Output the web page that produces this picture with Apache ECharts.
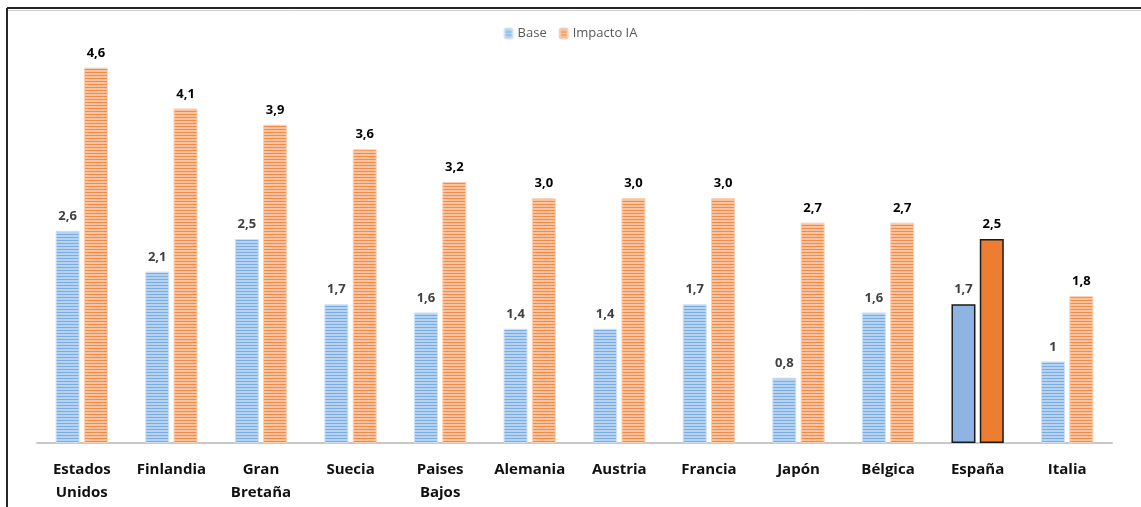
<!DOCTYPE html>
<html>
<head>
<meta charset="utf-8">
<style>
  html, body { margin: 0; padding: 0; background: #fff; }
  #chart { width: 1141px; height: 507px; }
</style>
<script src="https://cdn.jsdelivr.net/npm/echarts@6/dist/echarts.min.js"></script>
</head>
<body>
<div id="chart"></div>
<script>
const categories = ["Estados\nUnidos", "Finlandia", "Gran\nBretaña", "Suecia", "Paises\nBajos", "Alemania", "Austria", "Francia", "Japón", "Bélgica", "España", "Italia"];
const baseValues = [2.6, 2.1, 2.5, 1.7, 1.6, 1.4, 1.4, 1.7, 0.8, 1.6, 1.7, 1];
const impactoValues = [4.6, 4.1, 3.9, 3.6, 3.2, 3.0, 3.0, 3.0, 2.7, 2.7, 2.5, 1.8];
const highlightIndex = 10; // España

// horizontal stripe fill like the excel pattern
function stripes(dark, light) {
  const c = document.createElement("canvas");
  c.width = 4;
  c.height = 3;
  const ctx = c.getContext("2d");
  ctx.fillStyle = light;
  ctx.fillRect(0, 0, 4, 3);
  ctx.fillStyle = dark;
  ctx.fillRect(0, 0, 4, 1);
  return { image: c, repeat: "repeat" };
}

const bluePattern = stripes("#78ace2", "#b6d2f1");
const orangePattern = stripes("#f08c48", "#f8c39e");

function buildData(values, solid) {
  return values.map((v, i) => {
    if (i !== highlightIndex) return v;
    return {
      value: v,
      itemStyle: { color: solid, borderColor: "#1a1a1a", borderWidth: 1.5 },
    };
  });
}

const chart = echarts.init(document.getElementById("chart"));
chart.setOption({
  animation: false,
  textStyle: { fontFamily: "Open Sans" },
  legend: {
    data: ["Base", "Impacto IA"],
    top: 22,
    left: "center",
    itemWidth: 8,
    itemHeight: 10,
    itemGap: 12,
    textStyle: { color: "#595959", fontSize: 13 },
  },
  grid: { left: 37, right: 29, top: 35, bottom: 64 },
  xAxis: {
    type: "category",
    data: categories,
    axisTick: { show: false },
    axisLine: { lineStyle: { color: "#c8c8c8", width: 2 } },
    axisLabel: {
      color: "#111",
      fontSize: 15,
      fontWeight: "bold",
      lineHeight: 23,
      margin: 15,
      interval: 0,
    },
  },
  yAxis: {
    type: "value",
    min: 0,
    max: 5,
    show: false,
  },
  series: [
    {
      name: "Base",
      type: "bar",
      barWidth: 24,
      barGap: "18%",
      data: buildData(baseValues, "#8db4e2"),
      itemStyle: { color: bluePattern, borderColor: "#cfe1f5", borderWidth: 1 },
      label: {
        show: true,
        position: "top",
        distance: 8,
        color: "#404040",
        fontSize: 13,
        fontWeight: "bold",
        formatter: (p) => String(p.value).replace(".", ","),
      },
    },
    {
      name: "Impacto IA",
      type: "bar",
      barWidth: 24,
      data: buildData(impactoValues, "#ed7d31"),
      itemStyle: { color: orangePattern, borderColor: "#fad0b2", borderWidth: 1 },
      label: {
        show: true,
        position: "top",
        distance: 8,
        color: "#000",
        fontSize: 13,
        fontWeight: "bold",
        formatter: (p) => p.value.toFixed(1).replace(".", ","),
      },
    },
  ],
  graphic: [
    { type: "line", shape: { x1: 7, y1: 8, x2: 1141, y2: 8 }, style: { stroke: "#262626", lineWidth: 2 } },
    { type: "line", shape: { x1: 8, y1: 10.5, x2: 1141, y2: 10.5 }, style: { stroke: "#d0d0d0", lineWidth: 1 } },
    { type: "line", shape: { x1: 7, y1: 8, x2: 7, y2: 507 }, style: { stroke: "#262626", lineWidth: 2 } },
  ],
});
</script>
</body>
</html>
